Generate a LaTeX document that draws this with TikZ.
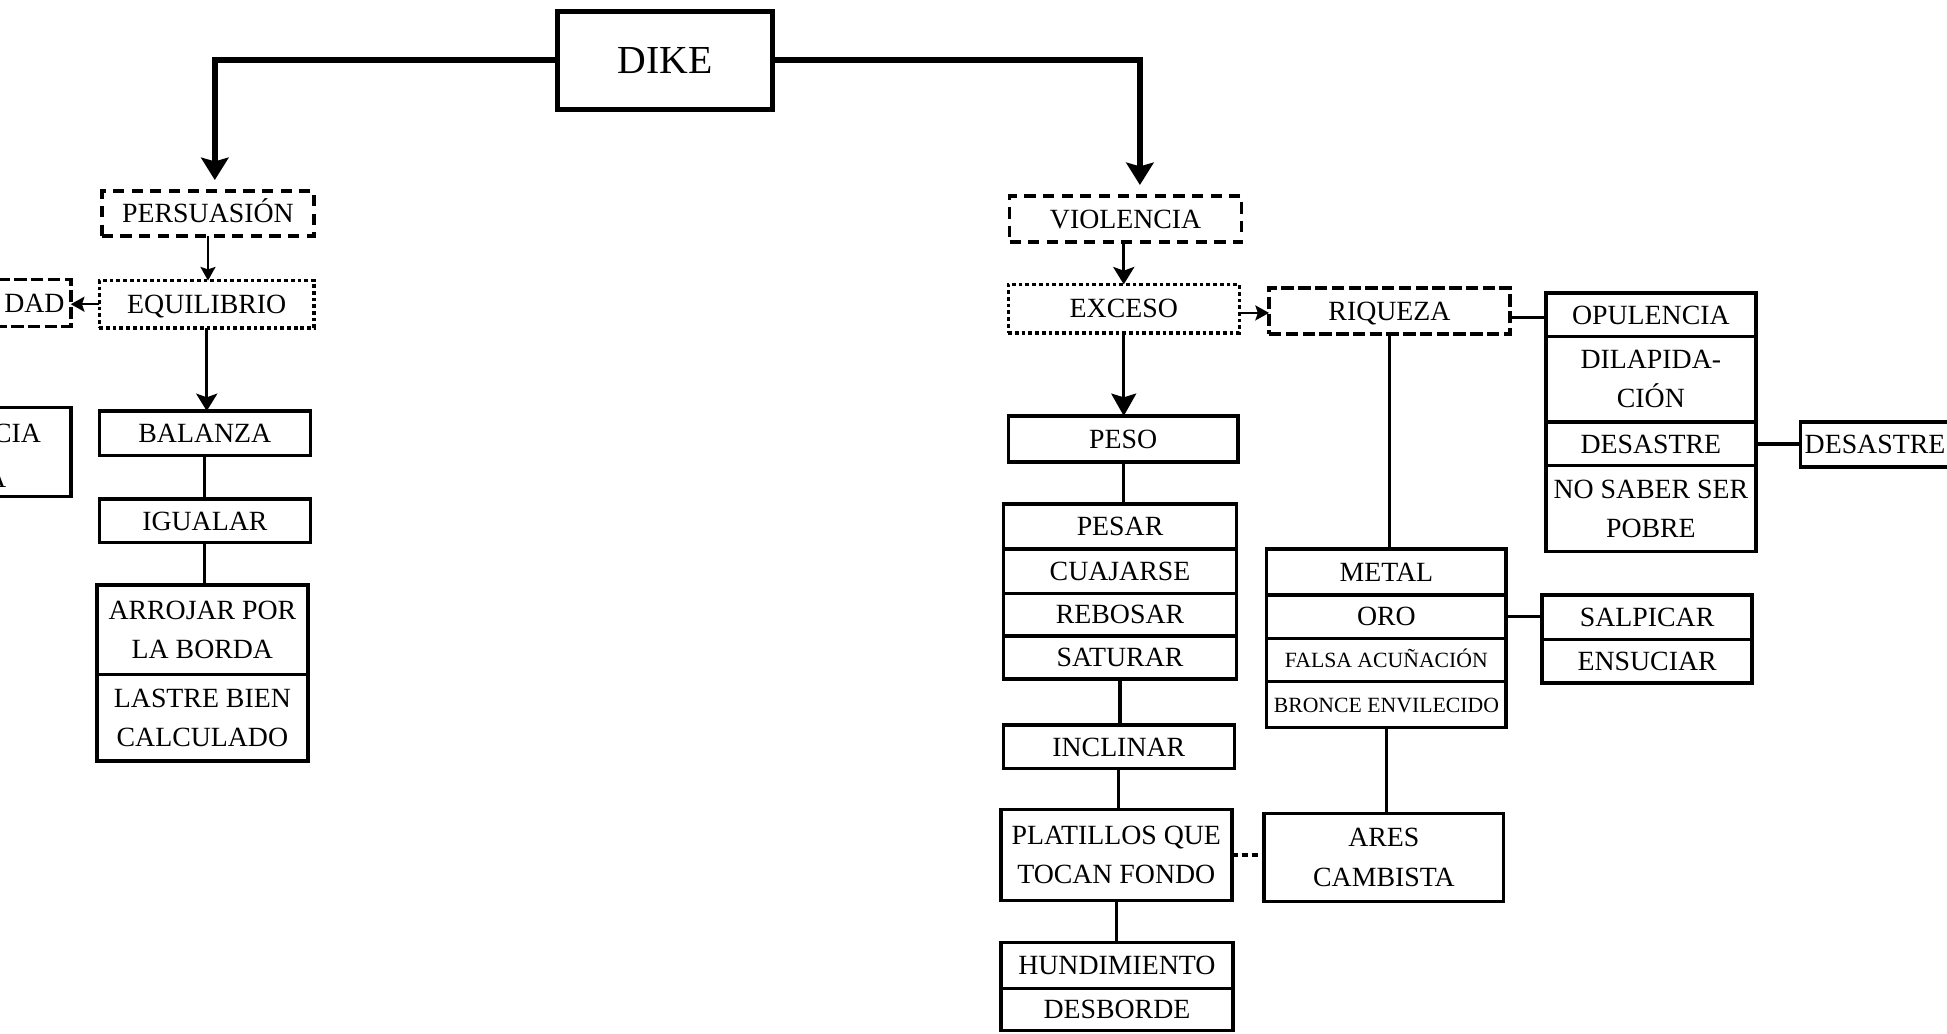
\documentclass[tikz,border=0pt]{standalone}
\usepackage{fontspec}
\setmainfont{Liberation Serif}
\usetikzlibrary{arrows.meta}
% \cellnode{name}{x1}{y1}{x2}{y2}{style}{text}: a box given by its corners
\newcommand\cellnode[7]{\node[#6, minimum width={(#4)-(#2)}, minimum height={(#5)-(#3)}] (#1) at ({((#2)+(#4))/2},{((#3)+(#5))/2}) {#7};}
\begin{document}
\begin{tikzpicture}[x=1pt,y=-1pt,
  base/.style={inner sep=0pt, outer sep=0pt, align=center,
    font=\fontsize{22.4pt}{31.5pt}\selectfont},
  small/.style={font=\fontsize{17.5pt}{20pt}\selectfont, text height=12pt, text depth=0pt},
  one/.style={text height=15pt, text depth=0pt},
  cellbox/.style={base, draw, line width=2.8pt},
  cell/.style={cellbox, one},
  dashbox/.style={cell, dash pattern=on 9pt off 6pt},
  longdashbox/.style={cell, dash pattern=on 10pt off 3.5pt},
  dotbox/.style={cell, line width=2.8pt, dash pattern=on 3pt off 2.4pt},
  dikebox/.style={base, draw, line width=4.2pt, font=\fontsize{32pt}{36pt}\selectfont,
    text height=21pt, text depth=0pt},
  txt/.style={base, one},
  link/.style={line width=2.6pt},
  thickarrow/.style={line width=5pt, line join=miter,
    -{Stealth[width=22pt,length=18pt,inset=3pt]}, shorten >=9pt},
  smallarrow/.style={line width=2pt, -{Stealth[width=12pt,length=11pt,inset=2pt]}},
  midarrow/.style={line width=2.4pt, -{Stealth[width=17pt,length=14pt,inset=3pt]}},
  bigarrow/.style={line width=2.6pt, -{Stealth[width=20pt,length=18pt,inset=3pt]}}
]
\fill[white] (0,0) rectangle (1568,832);
\useasboundingbox (0,0) rectangle (1568,832);

% top node
\cellnode{dike}{449}{9}{622}{88}{dikebox}{DIKE}

% left branch
\cellnode{persuasion}{82}{154}{253}{190}{dashbox}{PERSUASIÓN}
\cellnode{equilibrio}{80}{226}{253}{264}{dotbox}{EQUILIBRIO}
\node[longdashbox, minimum height=38, text width=92pt, inner xsep=5pt,
  align=right, anchor=east] (dad) at (57,244) {DAD};
\node[cellbox, minimum width=110, minimum height=72, anchor=east] (cia) at (57,364) {};
\node[txt, anchor=east] (ciatop) at (33,349) {CIA};
\node[txt, anchor=east] (ciabottom) at (5,385) {A};
\cellnode{balanza}{80}{331}{250}{367}{cell}{BALANZA}
\cellnode{igualar}{80}{402}{250}{437}{cell}{IGUALAR}
\cellnode{arrojar}{78}{471}{248}{543}{cellbox}{ARROJAR POR\\LA BORDA}
\cellnode{lastre}{78}{543}{248}{613}{cellbox}{LASTRE BIEN\\CALCULADO}

% right branch
\cellnode{violencia}{813}{158}{1000}{195}{dashbox}{VIOLENCIA}
\cellnode{exceso}{812}{229}{998}{268}{dotbox}{EXCESO}
\cellnode{riqueza}{1022}{232}{1216}{269}{longdashbox}{RIQUEZA}

\cellnode{opulencia}{1245}{236}{1414}{271}{cell}{OPULENCIA}
\cellnode{dilapidacion}{1245}{271}{1414}{340}{cellbox}{DILAPIDA-\\CIÓN}
\cellnode{desastreA}{1245}{340}{1414}{375}{cell}{DESASTRE}
\cellnode{nosaber}{1245}{375}{1414}{444}{cellbox}{NO SABER SER\\POBRE}
\cellnode{desastreB}{1450}{340}{1570}{376}{cell}{DESASTRE}

\cellnode{peso}{812}{335}{997}{372}{cell}{PESO}
\cellnode{pesar}{808}{406}{996}{442}{cell}{PESAR}
\cellnode{cuajarse}{808}{442}{996}{478}{cell}{CUAJARSE}
\cellnode{rebosar}{808}{478}{996}{512}{cell}{REBOSAR}
\cellnode{saturar}{808}{512}{996}{547}{cell}{SATURAR}
\cellnode{inclinar}{808}{584}{994}{619}{cell}{INCLINAR}
\cellnode{platillos}{806}{652}{992}{725}{cellbox}{PLATILLOS QUE\\TOCAN FONDO}
\cellnode{hundimiento}{806}{759}{993}{796}{cell}{HUNDIMIENTO}
\cellnode{desborde}{806}{796}{993}{830}{cell}{DESBORDE}

\cellnode{metal}{1020}{442}{1213}{479}{cell}{METAL}
\cellnode{oro}{1020}{479}{1213}{514}{cell}{ORO}
\cellnode{falsa}{1020}{514}{1213}{549}{cell,small}{FALSA ACUÑACIÓN}
\cellnode{bronce}{1020}{549}{1213}{586}{cell,small}{BRONCE ENVILECIDO}
\cellnode{ares}{1018}{655}{1211}{726}{cellbox}{ARES\\CAMBISTA}

\cellnode{salpicar}{1242}{479}{1411}{515}{cell}{SALPICAR}
\cellnode{ensuciar}{1242}{515}{1411}{550}{cell}{ENSUCIAR}

% main branches
\draw[thickarrow] (dike.west) -| ([xshift=5.5pt]persuasion.north);
\draw[thickarrow] (dike.east) -| ([xshift=11.5pt]violencia.north);

% left connectors
\draw[smallarrow] (persuasion.south) -- (persuasion.south |- equilibrio.north);
\draw[smallarrow] (equilibrio.west) -- (equilibrio.west -| dad.east);
\draw[midarrow] (equilibrio.south) -- (equilibrio.south |- balanza.north);
\draw[link] (balanza.south) -- (balanza.south |- igualar.north);
\draw[link] (igualar.south) -- (igualar.south |- arrojar.north);

% right connectors
\draw[midarrow] ([xshift=-1.5pt]violencia.south) -- ([xshift=-1.5pt]violencia.south |- exceso.north);
\draw[bigarrow] (exceso.south) -- (exceso.south |- peso.north);
\draw[smallarrow] ([yshift=-3.5pt]exceso.east) -- ([yshift=-3.5pt]exceso.east -| riqueza.west);
\draw[link] ([yshift=-5pt]riqueza.east) -- ([yshift=-5pt]riqueza.east -| opulencia.west);
\draw[link] (desastreA.east) -- (desastreA.east -| desastreB.west);
\draw[link] (peso.south) -- (peso.south |- pesar.north);
\draw[link] (saturar.south) -- (saturar.south |- inclinar.north);
\draw[link] (inclinar.south) -- (inclinar.south |- platillos.north);
\draw[link] (platillos.south) -- (platillos.south |- hundimiento.north);
\draw[link, dash pattern=on 5pt off 3pt] (platillos.east) -- (platillos.east -| ares.west);
\draw[link] (riqueza.south) -- (riqueza.south |- metal.north);
\draw[link] (bronce.south) -- (bronce.south |- ares.north);
\draw[link] (oro.east) -- (oro.east -| salpicar.west);
\end{tikzpicture}
\end{document}
